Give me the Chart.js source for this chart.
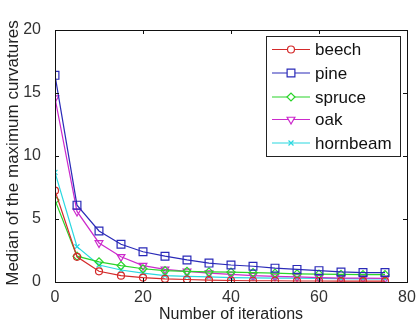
<!DOCTYPE html>
<html><head><meta charset="utf-8">
<script src="https://cdn.jsdelivr.net/npm/chart.js@4/dist/chart.umd.min.js"></script>
<style>html,body{margin:0;padding:0;background:#fff;}#wrap{width:416px;height:326px;}</style>
</head><body><div id="wrap"><canvas id="c" width="416" height="326"></canvas></div>
<script>
const iterations = [0,5,10,15,20,25,30,35,40,45,50,55,60,65,70,75];
const beech    = [7.25,2.0,0.85,0.5,0.35,0.25,0.2,0.15,0.12,0.1,0.1,0.08,0.08,0.07,0.07,0.07];
const pine     = [16.4,6.1,4.05,3.0,2.4,2.05,1.75,1.5,1.35,1.25,1.1,1.0,0.9,0.8,0.75,0.75];
const spruce   = [6.5,2.05,1.6,1.3,1.05,0.9,0.85,0.8,0.78,0.75,0.7,0.65,0.62,0.6,0.58,0.58];
const oak      = [14.6,5.6,3.1,2.0,1.3,1.0,0.85,0.7,0.6,0.5,0.45,0.4,0.35,0.3,0.3,0.28];
const hornbeam = [8.7,2.8,1.35,0.95,0.7,0.5,0.45,0.4,0.35,0.33,0.3,0.3,0.28,0.27,0.25,0.25];
const seriesNames = ['beech','pine','spruce','oak','hornbeam'];
const xTicks = [0,20,40,60,80];
const yTicks = [0,5,10,15,20];
const xTitle = 'Number of iterations';
const yTitle = 'Median of the maximum curvatures';

const styles = [
  {color:'#d42a2a', pointStyle:'circle', radius:3.5, rotation:0},
  {color:'#2a2ab8', pointStyle:'rect', radius:5.5, rotation:0},
  {color:'#2ad42a', pointStyle:'rectRot', radius:4, rotation:0},
  {color:'#cc2acc', pointStyle:'triangle', radius:4.5, rotation:180},
  {color:'#2ad8e0', pointStyle:'crossRot', radius:3.5, rotation:0}
];
const values = [beech,pine,spruce,oak,hornbeam];
const datasets = values.map((v,i)=>({
  label: seriesNames[i],
  data: iterations.map((x,j)=>({x:x,y:v[j]})),
  borderColor: styles[i].color,
  backgroundColor: 'rgba(0,0,0,0)',
  pointBorderColor: styles[i].color,
  pointBackgroundColor: 'rgba(255,255,255,0)',
  pointStyle: styles[i].pointStyle,
  pointRadius: styles[i].radius,
  pointRotation: styles[i].rotation,
  pointBorderWidth: 1.2,
  borderWidth: 1.2,
  tension: 0
}));

const FONT = '"Liberation Sans", Arial, sans-serif';

const decor = {
  id:'decor',
  afterDraw(chart){
    const ctx = chart.ctx, a = chart.chartArea;
    const xs = chart.scales.x, ys = chart.scales.y;
    ctx.save();
    ctx.strokeStyle = '#111'; ctx.lineWidth = 1;
    ctx.strokeRect(Math.round(a.left)+0.5, Math.round(a.top)+0.5, Math.round(a.right-a.left), Math.round(a.bottom-a.top));
    const tl = 4;
    ctx.beginPath();
    xTicks.forEach(t=>{
      const px = Math.round(xs.getPixelForValue(t))+0.5;
      ctx.moveTo(px,a.bottom); ctx.lineTo(px,a.bottom-tl);
      ctx.moveTo(px,a.top); ctx.lineTo(px,a.top+tl);
    });
    yTicks.forEach(t=>{
      const py = Math.round(ys.getPixelForValue(t))+0.5;
      ctx.moveTo(a.left,py); ctx.lineTo(a.left+tl,py);
      ctx.moveTo(a.right,py); ctx.lineTo(a.right-tl,py);
    });
    ctx.stroke();
    // axis titles
    ctx.fillStyle = '#222';
    ctx.font = '16px ' + FONT;
    ctx.textAlign = 'center'; ctx.textBaseline = 'middle';
    ctx.fillText(xTitle, (a.left+a.right)/2, 315);
    ctx.save();
    ctx.translate(13, 153);
    ctx.rotate(-Math.PI/2);
    ctx.font = '17px ' + FONT;
    ctx.fillText(yTitle, 0, 0);
    ctx.restore();
    // legend
    const lx = 266, ly = 36, lw = 134, lh = 120;
    ctx.fillStyle = '#fff';
    ctx.fillRect(lx, ly, lw, lh);
    ctx.strokeStyle = '#222'; ctx.lineWidth = 1;
    ctx.strokeRect(lx+0.5, ly+0.5, lw, lh);
    const rows = [49.5,73,97,119.5,143];
    chart.data.datasets.forEach((ds,i)=>{
      const y = rows[i];
      ctx.strokeStyle = ds.borderColor; ctx.lineWidth = 1.2;
      ctx.beginPath(); ctx.moveTo(272,y); ctx.lineTo(310,y); ctx.stroke();
      ctx.fillStyle = '#fff';
      ctx.strokeStyle = ds.borderColor; ctx.lineWidth = 1.2;
      Chart.helpers.drawPoint(ctx, {pointStyle: ds.pointStyle, radius: ds.pointRadius, rotation: ds.pointRotation, borderWidth:1.2}, 291, y);
      ctx.fillStyle = '#111';
      ctx.font = '17px ' + FONT;
      ctx.textAlign = 'left'; ctx.textBaseline = 'middle';
      ctx.fillText(ds.label, 315, y+1);
    });
    ctx.restore();
  }
};

new Chart(document.getElementById('c'), {
  type:'line',
  data:{datasets},
  options:{
    responsive:false, animation:false, devicePixelRatio:1,
    layout:{padding:{top:30,right:9,left:0,bottom:0}},
    plugins:{legend:{display:false}, tooltip:{enabled:false}},
    scales:{
      x:{type:'linear', min:0, max:80,
         afterBuildTicks(s){ s.ticks = xTicks.map(v=>({value:v})); },
         afterFit(s){ s.height = 44; },
         grid:{display:false}, border:{display:false},
         ticks:{color:'#333', font:{size:16, family:FONT}, padding:-2, maxRotation:0}},
      y:{type:'linear', min:0, max:20,
         afterBuildTicks(s){ s.ticks = yTicks.map(v=>({value:v})); },
         afterFit(s){ s.width = 55; },
         grid:{display:false}, border:{display:false},
         ticks:{color:'#333', font:{size:16, family:FONT}, padding:6}}
    }
  },
  plugins:[decor]
});
</script></body></html>
